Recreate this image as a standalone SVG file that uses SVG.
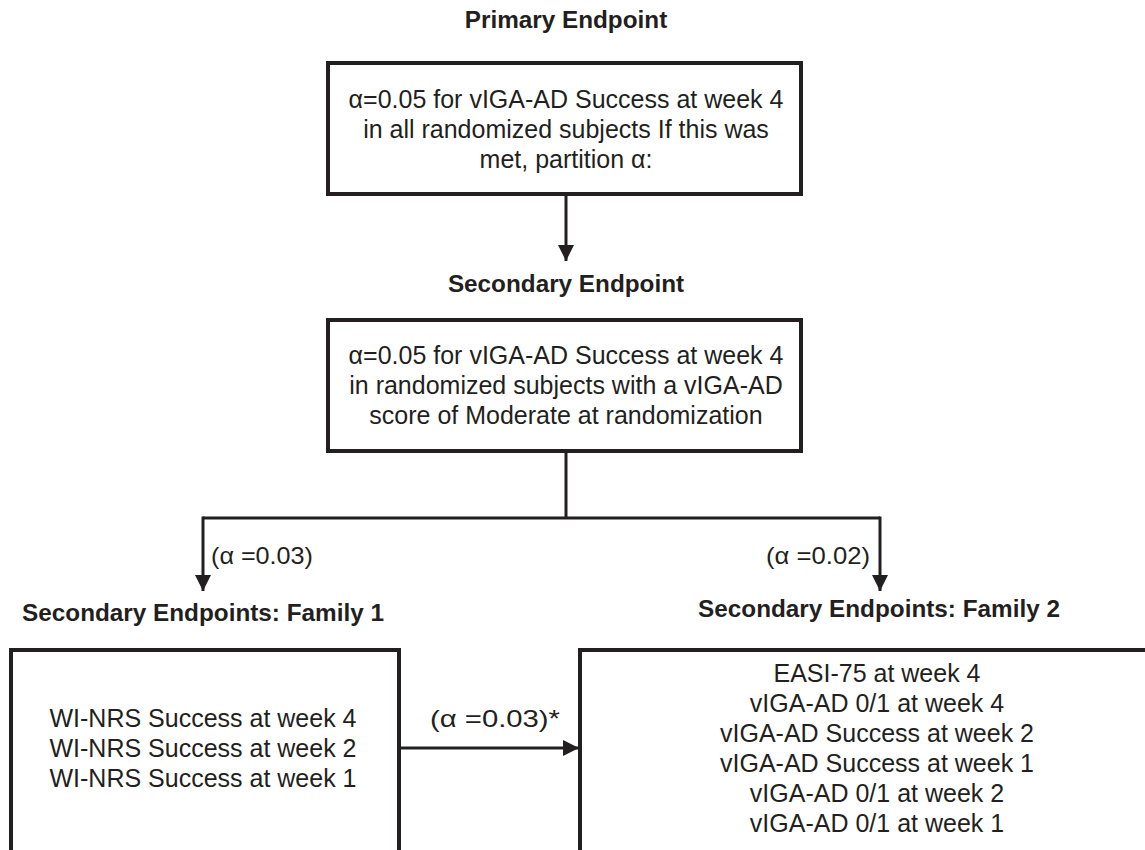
<svg xmlns="http://www.w3.org/2000/svg" width="1145" height="850" viewBox="0 0 1145 850">
<style>
.box{fill:#fff;stroke:#231f20;stroke-width:4}
.t{font-family:"Liberation Sans",Arial,sans-serif;font-size:25px;fill:#231f20;text-anchor:middle}
.h{font-family:"Liberation Sans",Arial,sans-serif;font-size:24.3px;font-weight:bold;fill:#231f20;text-anchor:middle}
.lbl{font-family:"Liberation Sans",Arial,sans-serif;font-size:24px;fill:#231f20}
.c{fill:none;stroke:#231f20;stroke-width:3}
</style>
<defs>
<marker id="ah" viewBox="0 0 10 10" refX="10" refY="5" markerWidth="5.5" markerHeight="5.5" markerUnits="strokeWidth" orient="auto">
<path d="M0,0 L10,5 L0,10 Z" fill="#231f20"/>
</marker>
</defs>
<rect width="1145" height="850" fill="#fff"/>
<g id="connectors">
<line class="c" x1="566" y1="195" x2="566" y2="261" marker-end="url(#ah)"/>
<polyline class="c" points="566,452 566,518"/>
<polyline class="c" points="203,518 880,518"/>
<line class="c" x1="203" y1="516.5" x2="203" y2="591" marker-end="url(#ah)"/>
<line class="c" x1="880" y1="516.5" x2="880" y2="591" marker-end="url(#ah)"/>
<line class="c" x1="399" y1="748" x2="579" y2="748" marker-end="url(#ah)"/>
<text class="lbl" x="211" y="564" textLength="102" lengthAdjust="spacingAndGlyphs">(α =0.03)</text>
<text class="lbl" x="766" y="564" textLength="104" lengthAdjust="spacingAndGlyphs">(α =0.02)</text>
<text class="lbl" x="430" y="727" textLength="130" lengthAdjust="spacingAndGlyphs">(α =0.03)*</text>
</g>
<g id="primary">
<text class="h" x="566" y="28">Primary Endpoint</text>
<rect class="box" x="328" y="63" width="473" height="131"/>
<text class="t" x="566" y="108">α=0.05 for vIGA-AD Success at week 4</text>
<text class="t" x="566" y="138">in all randomized subjects If this was</text>
<text class="t" x="566" y="168">met, partition α:</text>
</g>
<g id="secondary">
<text class="h" x="566" y="292">Secondary Endpoint</text>
<rect class="box" x="328" y="320" width="473" height="131"/>
<text class="t" x="566" y="364">α=0.05 for vIGA-AD Success at week 4</text>
<text class="t" x="566" y="394">in randomized subjects with a vIGA-AD</text>
<text class="t" x="566" y="424">score of Moderate at randomization</text>
</g>
<g id="family1">
<text class="h" x="203" y="621">Secondary Endpoints: Family 1</text>
<rect class="box" x="11" y="650" width="388" height="260"/>
<text class="t" x="203" y="727">WI-NRS Success at week 4</text>
<text class="t" x="203" y="757">WI-NRS Success at week 2</text>
<text class="t" x="203" y="787">WI-NRS Success at week 1</text>
</g>
<g id="family2">
<text class="h" x="879" y="617">Secondary Endpoints: Family 2</text>
<rect class="box" x="580" y="650" width="620" height="260"/>
<text class="t" x="877" y="682">EASI-75 at week 4</text>
<text class="t" x="877" y="712">vIGA-AD 0/1 at week 4</text>
<text class="t" x="877" y="742">vIGA-AD Success at week 2</text>
<text class="t" x="877" y="772">vIGA-AD Success at week 1</text>
<text class="t" x="877" y="802">vIGA-AD 0/1 at week 2</text>
<text class="t" x="877" y="832">vIGA-AD 0/1 at week 1</text>
</g>
</svg>
